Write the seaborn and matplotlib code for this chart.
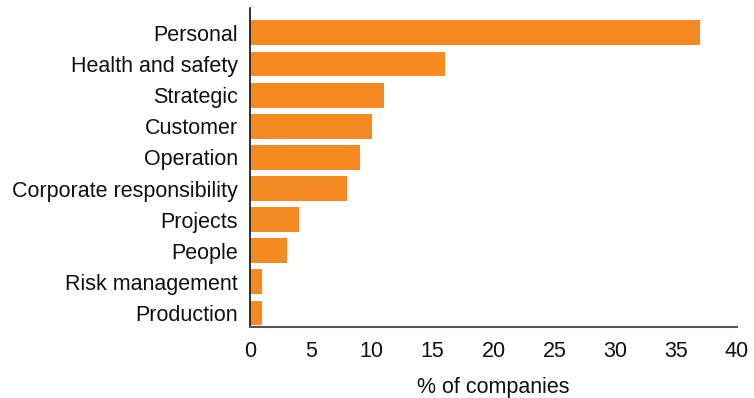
import matplotlib
matplotlib.use("Agg")
import matplotlib.pyplot as plt
import seaborn as sns
import pandas as pd

categories = ["Personal", "Health and safety", "Strategic", "Customer", "Operation",
              "Corporate responsibility", "Projects", "People", "Risk management", "Production"]
values = [37, 16, 11, 10, 9, 8, 4, 3, 1, 1]
x_ticks = [0, 5, 10, 15, 20, 25, 30, 35, 40]

sns.set_theme(style="white")
plt.rcParams["font.family"] = ["Liberation Sans", "DejaVu Sans"]

df = pd.DataFrame({"category": categories, "value": values})

fig = plt.figure(figsize=(7.54, 3.98), dpi=100)
ax = fig.add_axes([250 / 754, 1 - 327 / 398, 487 / 754, 319 / 398])

sns.barplot(data=df, x="value", y="category", color="#F58A22", saturation=1,
            width=0.8, linewidth=0, ax=ax)

ax.set_xlim(0, 40)
ax.set_ylim(9.45, -0.8)
ax.set_xticks(x_ticks)
ax.set_xticklabels([str(t) for t in x_ticks], fontsize=15.5, color="#111111")
ax.tick_params(axis="y", labelsize=15.5, labelcolor="#111111", length=0, pad=8.5)
ax.tick_params(axis="x", length=0, pad=10)
ax.set_ylabel("")
ax.set_xlabel("% of companies", fontsize=15.5, color="#111111", labelpad=11)

for side in ["top", "right"]:
    ax.spines[side].set_visible(False)
ax.spines["left"].set_color("#111111")
ax.spines["left"].set_linewidth(1.2)
ax.spines["bottom"].set_color("#555555")
ax.spines["bottom"].set_linewidth(1.5)

fig.savefig("out.png", dpi=100)
